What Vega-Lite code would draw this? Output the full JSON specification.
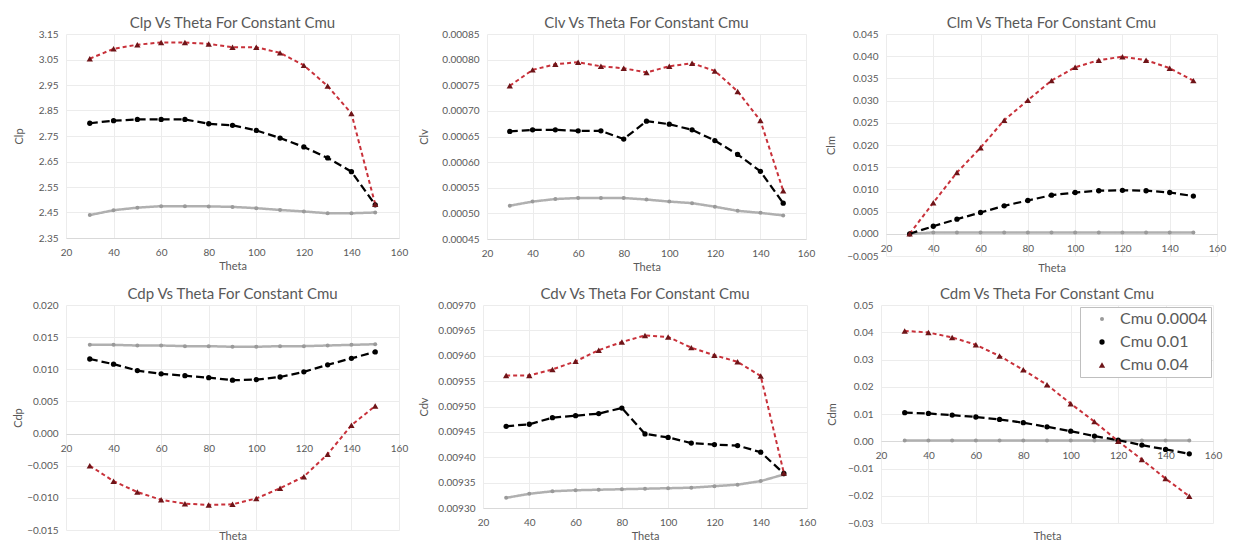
{
  "$schema": "https://vega.github.io/schema/vega-lite/v6.json",
  "padding": {"left": 12, "top": 16, "right": 5, "bottom": 0},
  "background": "white",
  "config": {
    "font": "Lato",
    "view": {"stroke": null},
    "title": {"fontSize": 15, "font": "Lato", "fontWeight": "normal", "color": "#595959", "offset": -2},
    "axis": {"labelFontSize": 10, "labelColor": "#595959", "labelFont": "Lato", "titleFont": "Lato", "titleFontSize": 11, "titleFontWeight": "normal", "titleColor": "#595959", "gridColor": "#ececec", "domain": false, "ticks": false},
    "axisX": {"domain": true, "domainColor": "#d9d9d9", "labelPadding": 9, "titlePadding": 3, "labelFlush": false, "labelOverlap": false},
    "axisY": {"labelPadding": 8},
    "legend": {"labelFont": "Lato", "labelFontSize": 16, "labelColor": "#595959"}
  },
  "datasets": {
    "d": [
      {"theta": 30, "series": "Cmu 0.0004", "Clp": 2.44, "Clv": 0.000515, "Clm": 0.0, "Cdp": 0.0138, "Cdv": 0.00932, "Cdm": 0.0003},
      {"theta": 40, "series": "Cmu 0.0004", "Clp": 2.459, "Clv": 0.000523, "Clm": 0.0003, "Cdp": 0.0138, "Cdv": 0.009328, "Cdm": 0.0003},
      {"theta": 50, "series": "Cmu 0.0004", "Clp": 2.469, "Clv": 0.000528, "Clm": 0.0003, "Cdp": 0.0137, "Cdv": 0.009333, "Cdm": 0.0003},
      {"theta": 60, "series": "Cmu 0.0004", "Clp": 2.475, "Clv": 0.00053, "Clm": 0.0003, "Cdp": 0.0137, "Cdv": 0.009335, "Cdm": 0.0003},
      {"theta": 70, "series": "Cmu 0.0004", "Clp": 2.475, "Clv": 0.00053, "Clm": 0.0003, "Cdp": 0.0136, "Cdv": 0.009336, "Cdm": 0.0003},
      {"theta": 80, "series": "Cmu 0.0004", "Clp": 2.474, "Clv": 0.00053, "Clm": 0.0003, "Cdp": 0.0136, "Cdv": 0.009337, "Cdm": 0.0003},
      {"theta": 90, "series": "Cmu 0.0004", "Clp": 2.472, "Clv": 0.000527, "Clm": 0.0003, "Cdp": 0.0135, "Cdv": 0.009338, "Cdm": 0.0003},
      {"theta": 100, "series": "Cmu 0.0004", "Clp": 2.467, "Clv": 0.000523, "Clm": 0.0003, "Cdp": 0.0135, "Cdv": 0.009339, "Cdm": 0.0003},
      {"theta": 110, "series": "Cmu 0.0004", "Clp": 2.46, "Clv": 0.00052, "Clm": 0.0003, "Cdp": 0.0136, "Cdv": 0.00934, "Cdm": 0.0003},
      {"theta": 120, "series": "Cmu 0.0004", "Clp": 2.454, "Clv": 0.000513, "Clm": 0.0003, "Cdp": 0.0136, "Cdv": 0.009343, "Cdm": 0.0003},
      {"theta": 130, "series": "Cmu 0.0004", "Clp": 2.447, "Clv": 0.000505, "Clm": 0.0003, "Cdp": 0.0137, "Cdv": 0.009346, "Cdm": 0.0003},
      {"theta": 140, "series": "Cmu 0.0004", "Clp": 2.447, "Clv": 0.000501, "Clm": 0.0003, "Cdp": 0.0138, "Cdv": 0.009353, "Cdm": 0.0003},
      {"theta": 150, "series": "Cmu 0.0004", "Clp": 2.45, "Clv": 0.000496, "Clm": 0.0003, "Cdp": 0.0139, "Cdv": 0.009366, "Cdm": 0.0003},
      {"theta": 30, "series": "Cmu 0.01", "Clp": 2.8, "Clv": 0.00066, "Clm": 0.0, "Cdp": 0.0116, "Cdv": 0.009461, "Cdm": 0.0105},
      {"theta": 40, "series": "Cmu 0.01", "Clp": 2.81, "Clv": 0.000663, "Clm": 0.0017, "Cdp": 0.0108, "Cdv": 0.009465, "Cdm": 0.0102},
      {"theta": 50, "series": "Cmu 0.01", "Clp": 2.815, "Clv": 0.000663, "Clm": 0.0033, "Cdp": 0.0098, "Cdv": 0.009478, "Cdm": 0.0096},
      {"theta": 60, "series": "Cmu 0.01", "Clp": 2.815, "Clv": 0.000661, "Clm": 0.0048, "Cdp": 0.0093, "Cdv": 0.009482, "Cdm": 0.0089},
      {"theta": 70, "series": "Cmu 0.01", "Clp": 2.815, "Clv": 0.000661, "Clm": 0.0063, "Cdp": 0.009, "Cdv": 0.009486, "Cdm": 0.008},
      {"theta": 80, "series": "Cmu 0.01", "Clp": 2.798, "Clv": 0.000645, "Clm": 0.0075, "Cdp": 0.0087, "Cdv": 0.009497, "Cdm": 0.0068},
      {"theta": 90, "series": "Cmu 0.01", "Clp": 2.792, "Clv": 0.00068, "Clm": 0.0087, "Cdp": 0.0083, "Cdv": 0.009446, "Cdm": 0.0053},
      {"theta": 100, "series": "Cmu 0.01", "Clp": 2.772, "Clv": 0.000674, "Clm": 0.0093, "Cdp": 0.0084, "Cdv": 0.009439, "Cdm": 0.0037},
      {"theta": 110, "series": "Cmu 0.01", "Clp": 2.742, "Clv": 0.000663, "Clm": 0.0097, "Cdp": 0.0088, "Cdv": 0.009428, "Cdm": 0.0019},
      {"theta": 120, "series": "Cmu 0.01", "Clp": 2.707, "Clv": 0.000642, "Clm": 0.0098, "Cdp": 0.0096, "Cdv": 0.009425, "Cdm": 0.0004},
      {"theta": 130, "series": "Cmu 0.01", "Clp": 2.664, "Clv": 0.000615, "Clm": 0.0097, "Cdp": 0.0107, "Cdv": 0.009423, "Cdm": -0.0014},
      {"theta": 140, "series": "Cmu 0.01", "Clp": 2.61, "Clv": 0.000582, "Clm": 0.0093, "Cdp": 0.0117, "Cdv": 0.00941, "Cdm": -0.003},
      {"theta": 150, "series": "Cmu 0.01", "Clp": 2.48, "Clv": 0.00052, "Clm": 0.0085, "Cdp": 0.0127, "Cdv": 0.009368, "Cdm": -0.0046},
      {"theta": 30, "series": "Cmu 0.04", "Clp": 3.053, "Clv": 0.000749, "Clm": 0.0, "Cdp": -0.005, "Cdv": 0.009561, "Cdm": 0.0405},
      {"theta": 40, "series": "Cmu 0.04", "Clp": 3.092, "Clv": 0.00078, "Clm": 0.007, "Cdp": -0.0074, "Cdv": 0.009561, "Cdm": 0.0399},
      {"theta": 50, "series": "Cmu 0.04", "Clp": 3.108, "Clv": 0.000791, "Clm": 0.0138, "Cdp": -0.0091, "Cdv": 0.009573, "Cdm": 0.0381},
      {"theta": 60, "series": "Cmu 0.04", "Clp": 3.117, "Clv": 0.000795, "Clm": 0.0194, "Cdp": -0.0103, "Cdv": 0.009589, "Cdm": 0.0354},
      {"theta": 70, "series": "Cmu 0.04", "Clp": 3.117, "Clv": 0.000787, "Clm": 0.0256, "Cdp": -0.0109, "Cdv": 0.009611, "Cdm": 0.0313},
      {"theta": 80, "series": "Cmu 0.04", "Clp": 3.111, "Clv": 0.000783, "Clm": 0.0301, "Cdp": -0.0111, "Cdv": 0.009627, "Cdm": 0.0262},
      {"theta": 90, "series": "Cmu 0.04", "Clp": 3.098, "Clv": 0.000775, "Clm": 0.0345, "Cdp": -0.011, "Cdv": 0.00964, "Cdm": 0.0207},
      {"theta": 100, "series": "Cmu 0.04", "Clp": 3.098, "Clv": 0.000787, "Clm": 0.0375, "Cdp": -0.0101, "Cdv": 0.009637, "Cdm": 0.0138},
      {"theta": 110, "series": "Cmu 0.04", "Clp": 3.076, "Clv": 0.000793, "Clm": 0.0391, "Cdp": -0.0085, "Cdv": 0.009616, "Cdm": 0.0072},
      {"theta": 120, "series": "Cmu 0.04", "Clp": 3.027, "Clv": 0.000778, "Clm": 0.0399, "Cdp": -0.0067, "Cdv": 0.009601, "Cdm": 0.0},
      {"theta": 130, "series": "Cmu 0.04", "Clp": 2.946, "Clv": 0.000738, "Clm": 0.0391, "Cdp": -0.0032, "Cdv": 0.009588, "Cdm": -0.0067},
      {"theta": 140, "series": "Cmu 0.04", "Clp": 2.838, "Clv": 0.000681, "Clm": 0.0373, "Cdp": 0.0013, "Cdv": 0.00956, "Cdm": -0.0137},
      {"theta": 150, "series": "Cmu 0.04", "Clp": 2.482, "Clv": 0.000544, "Clm": 0.0345, "Cdp": 0.0043, "Cdv": 0.009369, "Cdm": -0.0202}
    ]
  },
  "resolve": {"scale": {"color": "independent", "fill": "independent", "shape": "independent", "size": "independent", "strokeDash": "independent", "strokeWidth": "independent"}, "legend": {"color": "independent", "fill": "independent", "shape": "independent", "size": "independent", "strokeDash": "independent", "strokeWidth": "independent"}},
  "spacing": 14,
  "vconcat": [
    {
      "spacing": 10,
      "resolve": {"scale": {"color": "independent", "fill": "independent", "shape": "independent", "size": "independent", "strokeDash": "independent", "strokeWidth": "independent"}, "legend": {"color": "independent", "fill": "independent", "shape": "independent", "size": "independent", "strokeDash": "independent", "strokeWidth": "independent"}},
      "hconcat": [
        {
          "width": 333, "height": 204,
          "title": "Clp Vs Theta For Constant Cmu",
          "data": {"name": "d"},
          "encoding": {
            "x": {"field": "theta", "type": "quantitative", "scale": {"domain": [20, 160], "nice": false}, "axis": {"values": [20, 40, 60, 80, 100, 120, 140, 160], "title": "Theta"}},
            "y": {"field": "Clp", "type": "quantitative", "scale": {"domain": [2.35, 3.15], "nice": false, "zero": false}, "axis": {"values": [2.35, 2.45, 2.55, 2.65, 2.75, 2.85, 2.95, 3.05, 3.15], "format": ".2f", "title": "Clp", "minExtent": 36, "maxExtent": 36, "titlePadding": 6}}
          },
          "layer": [
            {"mark": {"type": "line"}, "encoding": {
              "color": {"field": "series", "type": "nominal", "scale": {"domain": ["Cmu 0.04", "Cmu 0.01", "Cmu 0.0004"], "range": ["#c8313a", "#000000", "#b0b0b0"]}, "legend": null},
              "strokeDash": {"field": "series", "type": "nominal", "scale": {"domain": ["Cmu 0.04", "Cmu 0.01", "Cmu 0.0004"], "range": [[4, 3], [8, 4], [1, 0]]}, "legend": null},
              "strokeWidth": {"field": "series", "type": "nominal", "scale": {"domain": ["Cmu 0.04", "Cmu 0.01", "Cmu 0.0004"], "range": [2, 2.5, 1.5]}, "legend": null}}},
            {"mark": {"type": "point", "filled": true, "opacity": 1}, "encoding": {
              "fill": {"field": "series", "type": "nominal", "scale": {"domain": ["Cmu 0.0004", "Cmu 0.01", "Cmu 0.04"], "range": ["#9a9a9a", "#000000", "#6e1418"]}, "legend": null},
              "shape": {"field": "series", "type": "nominal", "scale": {"domain": ["Cmu 0.0004", "Cmu 0.01", "Cmu 0.04"], "range": ["circle", "circle", "triangle-up"]}, "legend": null},
              "size": {"field": "series", "type": "nominal", "scale": {"domain": ["Cmu 0.0004", "Cmu 0.01", "Cmu 0.04"], "range": [16, 40, 30]}, "legend": null}}}
          ]
        },
        {
          "width": 319, "height": 205,
          "title": "Clv Vs Theta For Constant Cmu",
          "data": {"name": "d"},
          "encoding": {
            "x": {"field": "theta", "type": "quantitative", "scale": {"domain": [20, 160], "nice": false}, "axis": {"values": [20, 40, 60, 80, 100, 120, 140, 160], "title": "Theta"}},
            "y": {"field": "Clv", "type": "quantitative", "scale": {"domain": [0.00045, 0.00085], "nice": false, "zero": false}, "axis": {"values": [0.00045, 0.0005, 0.00055, 0.0006, 0.00065, 0.0007, 0.00075, 0.0008, 0.00085], "format": ".5f", "title": "Clv", "minExtent": 42, "maxExtent": 42, "titlePadding": 16}}
          },
          "layer": [
            {"mark": {"type": "line"}, "encoding": {
              "color": {"field": "series", "type": "nominal", "scale": {"domain": ["Cmu 0.04", "Cmu 0.01", "Cmu 0.0004"], "range": ["#c8313a", "#000000", "#b0b0b0"]}, "legend": null},
              "strokeDash": {"field": "series", "type": "nominal", "scale": {"domain": ["Cmu 0.04", "Cmu 0.01", "Cmu 0.0004"], "range": [[4, 3], [8, 4], [1, 0]]}, "legend": null},
              "strokeWidth": {"field": "series", "type": "nominal", "scale": {"domain": ["Cmu 0.04", "Cmu 0.01", "Cmu 0.0004"], "range": [2, 2.5, 1.5]}, "legend": null}}},
            {"mark": {"type": "point", "filled": true, "opacity": 1}, "encoding": {
              "fill": {"field": "series", "type": "nominal", "scale": {"domain": ["Cmu 0.0004", "Cmu 0.01", "Cmu 0.04"], "range": ["#9a9a9a", "#000000", "#6e1418"]}, "legend": null},
              "shape": {"field": "series", "type": "nominal", "scale": {"domain": ["Cmu 0.0004", "Cmu 0.01", "Cmu 0.04"], "range": ["circle", "circle", "triangle-up"]}, "legend": null},
              "size": {"field": "series", "type": "nominal", "scale": {"domain": ["Cmu 0.0004", "Cmu 0.01", "Cmu 0.04"], "range": [16, 40, 30]}, "legend": null}}}
          ]
        },
        {
          "width": 331, "height": 222,
          "title": "Clm Vs Theta For Constant Cmu",
          "data": {"name": "d"},
          "encoding": {
            "x": {"field": "theta", "type": "quantitative", "scale": {"domain": [20, 160], "nice": false}, "axis": {"values": [20, 40, 60, 80, 100, 120, 140, 160], "title": "Theta", "offset": -22, "titleY": 28}},
            "y": {"field": "Clm", "type": "quantitative", "scale": {"domain": [-0.005, 0.045], "nice": false, "zero": false}, "axis": {"values": [-0.005, 0, 0.005, 0.01, 0.015, 0.02, 0.025, 0.03, 0.035, 0.04, 0.045], "format": ".3f", "title": "Clm", "minExtent": 38, "maxExtent": 38, "titlePadding": 12}}
          },
          "layer": [
            {"mark": {"type": "line"}, "encoding": {
              "color": {"field": "series", "type": "nominal", "scale": {"domain": ["Cmu 0.04", "Cmu 0.01", "Cmu 0.0004"], "range": ["#c8313a", "#000000", "#b0b0b0"]}, "legend": null},
              "strokeDash": {"field": "series", "type": "nominal", "scale": {"domain": ["Cmu 0.04", "Cmu 0.01", "Cmu 0.0004"], "range": [[4, 3], [8, 4], [1, 0]]}, "legend": null},
              "strokeWidth": {"field": "series", "type": "nominal", "scale": {"domain": ["Cmu 0.04", "Cmu 0.01", "Cmu 0.0004"], "range": [2, 2.5, 1.5]}, "legend": null}}},
            {"mark": {"type": "point", "filled": true, "opacity": 1}, "encoding": {
              "fill": {"field": "series", "type": "nominal", "scale": {"domain": ["Cmu 0.0004", "Cmu 0.01", "Cmu 0.04"], "range": ["#9a9a9a", "#000000", "#6e1418"]}, "legend": null},
              "shape": {"field": "series", "type": "nominal", "scale": {"domain": ["Cmu 0.0004", "Cmu 0.01", "Cmu 0.04"], "range": ["circle", "circle", "triangle-up"]}, "legend": null},
              "size": {"field": "series", "type": "nominal", "scale": {"domain": ["Cmu 0.0004", "Cmu 0.01", "Cmu 0.04"], "range": [16, 40, 30]}, "legend": null}}}
          ]
        }
      ]
    },
    {
      "spacing": 10,
      "resolve": {"scale": {"color": "independent", "fill": "independent", "shape": "independent", "size": "independent", "strokeDash": "independent", "strokeWidth": "independent"}, "legend": {"color": "independent", "fill": "independent", "shape": "independent", "size": "independent", "strokeDash": "independent", "strokeWidth": "independent"}},
      "hconcat": [
        {
          "width": 333, "height": 225,
          "title": "Cdp Vs Theta For Constant Cmu",
          "data": {"name": "d"},
          "encoding": {
            "x": {"field": "theta", "type": "quantitative", "scale": {"domain": [20, 160], "nice": false}, "axis": {"values": [20, 40, 60, 80, 100, 120, 140, 160], "title": "Theta", "offset": -96, "titleY": 96}},
            "y": {"field": "Cdp", "type": "quantitative", "scale": {"domain": [-0.015, 0.02], "nice": false, "zero": false}, "axis": {"values": [-0.015, -0.01, -0.005, 0, 0.005, 0.01, 0.015, 0.02], "format": ".3f", "title": "Cdp", "minExtent": 38, "maxExtent": 38, "titlePadding": 5}}
          },
          "layer": [
            {"mark": {"type": "line"}, "encoding": {
              "color": {"field": "series", "type": "nominal", "scale": {"domain": ["Cmu 0.04", "Cmu 0.01", "Cmu 0.0004"], "range": ["#c8313a", "#000000", "#b0b0b0"]}, "legend": null},
              "strokeDash": {"field": "series", "type": "nominal", "scale": {"domain": ["Cmu 0.04", "Cmu 0.01", "Cmu 0.0004"], "range": [[4, 3], [8, 4], [1, 0]]}, "legend": null},
              "strokeWidth": {"field": "series", "type": "nominal", "scale": {"domain": ["Cmu 0.04", "Cmu 0.01", "Cmu 0.0004"], "range": [2, 2.5, 1.5]}, "legend": null}}},
            {"mark": {"type": "point", "filled": true, "opacity": 1}, "encoding": {
              "fill": {"field": "series", "type": "nominal", "scale": {"domain": ["Cmu 0.0004", "Cmu 0.01", "Cmu 0.04"], "range": ["#9a9a9a", "#000000", "#6e1418"]}, "legend": null},
              "shape": {"field": "series", "type": "nominal", "scale": {"domain": ["Cmu 0.0004", "Cmu 0.01", "Cmu 0.04"], "range": ["circle", "circle", "triangle-up"]}, "legend": null},
              "size": {"field": "series", "type": "nominal", "scale": {"domain": ["Cmu 0.0004", "Cmu 0.01", "Cmu 0.04"], "range": [16, 40, 30]}, "legend": null}}}
          ]
        },
        {
          "width": 324, "height": 203,
          "title": "Cdv Vs Theta For Constant Cmu",
          "data": {"name": "d"},
          "encoding": {
            "x": {"field": "theta", "type": "quantitative", "scale": {"domain": [20, 160], "nice": false}, "axis": {"values": [20, 40, 60, 80, 100, 120, 140, 160], "title": "Theta"}},
            "y": {"field": "Cdv", "type": "quantitative", "scale": {"domain": [0.0093, 0.0097], "nice": false, "zero": false}, "axis": {"values": [0.0093, 0.00935, 0.0094, 0.00945, 0.0095, 0.00955, 0.0096, 0.00965, 0.0097], "format": ".5f", "title": "Cdv", "minExtent": 44, "maxExtent": 44, "titlePadding": 10}}
          },
          "layer": [
            {"mark": {"type": "line"}, "encoding": {
              "color": {"field": "series", "type": "nominal", "scale": {"domain": ["Cmu 0.04", "Cmu 0.01", "Cmu 0.0004"], "range": ["#c8313a", "#000000", "#b0b0b0"]}, "legend": null},
              "strokeDash": {"field": "series", "type": "nominal", "scale": {"domain": ["Cmu 0.04", "Cmu 0.01", "Cmu 0.0004"], "range": [[4, 3], [8, 4], [1, 0]]}, "legend": null},
              "strokeWidth": {"field": "series", "type": "nominal", "scale": {"domain": ["Cmu 0.04", "Cmu 0.01", "Cmu 0.0004"], "range": [2, 2.5, 1.5]}, "legend": null}}},
            {"mark": {"type": "point", "filled": true, "opacity": 1}, "encoding": {
              "fill": {"field": "series", "type": "nominal", "scale": {"domain": ["Cmu 0.0004", "Cmu 0.01", "Cmu 0.04"], "range": ["#9a9a9a", "#000000", "#6e1418"]}, "legend": null},
              "shape": {"field": "series", "type": "nominal", "scale": {"domain": ["Cmu 0.0004", "Cmu 0.01", "Cmu 0.04"], "range": ["circle", "circle", "triangle-up"]}, "legend": null},
              "size": {"field": "series", "type": "nominal", "scale": {"domain": ["Cmu 0.0004", "Cmu 0.01", "Cmu 0.04"], "range": [16, 40, 30]}, "legend": null}}}
          ]
        },
        {
          "width": 332, "height": 218,
          "title": "Cdm Vs Theta For Constant Cmu",
          "data": {"name": "d"},
          "encoding": {
            "x": {"field": "theta", "type": "quantitative", "scale": {"domain": [20, 160], "nice": false}, "axis": {"values": [20, 40, 60, 80, 100, 120, 140, 160], "title": "Theta", "offset": -82, "titleY": 89}},
            "y": {"field": "Cdm", "type": "quantitative", "scale": {"domain": [-0.03, 0.05], "nice": false, "zero": false}, "axis": {"values": [-0.03, -0.02, -0.01, 0, 0.01, 0.02, 0.03, 0.04, 0.05], "format": ".2f", "title": "Cdm", "minExtent": 36, "maxExtent": 36, "titlePadding": 8}}
          },
          "layer": [
            {"mark": {"type": "line"}, "encoding": {
              "color": {"field": "series", "type": "nominal", "scale": {"domain": ["Cmu 0.04", "Cmu 0.01", "Cmu 0.0004"], "range": ["#c8313a", "#000000", "#b0b0b0"]}, "legend": null},
              "strokeDash": {"field": "series", "type": "nominal", "scale": {"domain": ["Cmu 0.04", "Cmu 0.01", "Cmu 0.0004"], "range": [[4, 3], [8, 4], [1, 0]]}, "legend": null},
              "strokeWidth": {"field": "series", "type": "nominal", "scale": {"domain": ["Cmu 0.04", "Cmu 0.01", "Cmu 0.0004"], "range": [2, 2.5, 1.5]}, "legend": null}}},
            {"mark": {"type": "point", "filled": true, "opacity": 1}, "encoding": {
              "fill": {"field": "series", "type": "nominal", "scale": {"domain": ["Cmu 0.0004", "Cmu 0.01", "Cmu 0.04"], "range": ["#9a9a9a", "#000000", "#6e1418"]}, "legend": {"title": null, "orient": "top-right", "offset": 2, "strokeColor": "#bfbfbf", "fillColor": "white", "padding": 4, "rowPadding": 7, "symbolOffset": 10, "labelOffset": 10, "labelFontSize": 16, "symbolStrokeWidth": 0}},
              "shape": {"field": "series", "type": "nominal", "scale": {"domain": ["Cmu 0.0004", "Cmu 0.01", "Cmu 0.04"], "range": ["circle", "circle", "triangle-up"]}, "legend": {"title": null, "orient": "top-right", "offset": 2, "strokeColor": "#bfbfbf", "fillColor": "white", "padding": 4, "rowPadding": 7, "symbolOffset": 10, "labelOffset": 10, "labelFontSize": 16, "symbolStrokeWidth": 0}},
              "size": {"field": "series", "type": "nominal", "scale": {"domain": ["Cmu 0.0004", "Cmu 0.01", "Cmu 0.04"], "range": [16, 40, 30]}, "legend": {"title": null, "orient": "top-right", "offset": 2, "strokeColor": "#bfbfbf", "fillColor": "white", "padding": 4, "rowPadding": 7, "symbolOffset": 10, "labelOffset": 10, "labelFontSize": 16, "symbolStrokeWidth": 0}}}}
          ]
        }
      ]
    }
  ]
}
